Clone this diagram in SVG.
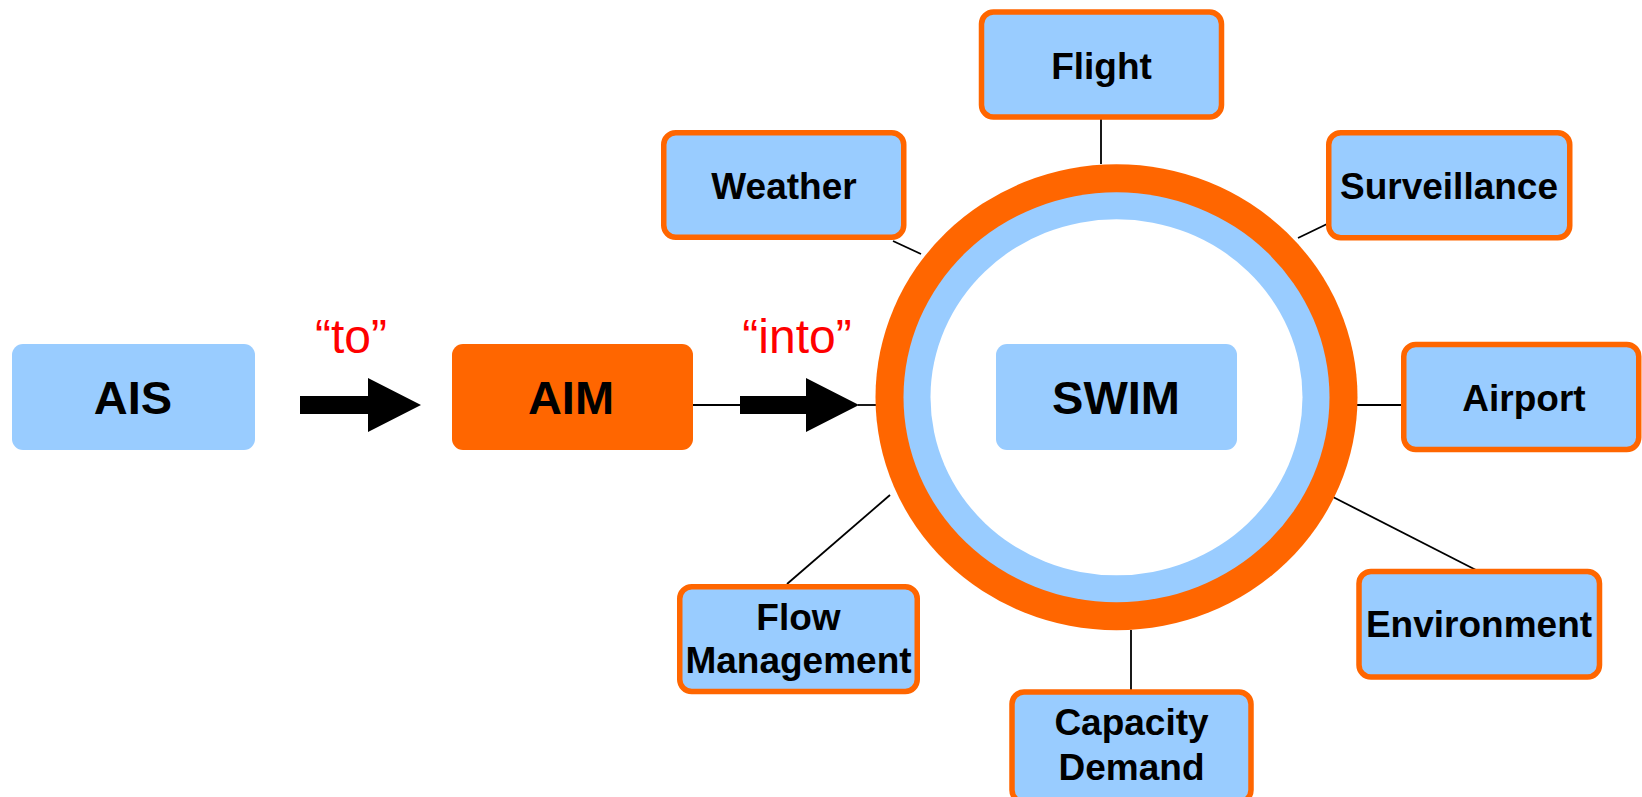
<svg xmlns="http://www.w3.org/2000/svg" width="1642" height="797" viewBox="0 0 1642 797">
<style>
.box{fill:#99CCFF;stroke:#FF6600;stroke-width:5.5}
.lbl{font-family:"Liberation Sans",Arial,sans-serif;font-weight:bold;font-size:37px;fill:#000;text-anchor:middle}
.big{font-family:"Liberation Sans",Arial,sans-serif;font-weight:bold;font-size:47px;fill:#000;text-anchor:middle}
.red{font-family:"Liberation Sans",Arial,sans-serif;font-size:48px;fill:#FF0000;text-anchor:middle}
.con{stroke:#000;stroke-width:1.8;fill:none}
</style>
<rect width="1642" height="797" fill="#fff"/>
<g id="connectors">
<line class="con" x1="693" y1="405" x2="740" y2="405"/>
<line class="con" x1="858" y1="405" x2="876" y2="405"/>
<line class="con" x1="1101" y1="118" x2="1101" y2="164"/>
<line class="con" x1="893" y1="241" x2="921" y2="254"/>
<line class="con" x1="1298" y1="238" x2="1327" y2="224"/>
<line class="con" x1="1357" y1="405" x2="1402" y2="405"/>
<line class="con" x1="1333" y1="497" x2="1476" y2="570"/>
<line class="con" x1="1131" y1="630" x2="1131" y2="690"/>
<line class="con" x1="890" y1="495" x2="787" y2="584"/>
<path d="M300 396 H368 V378 L421 405 L368 432 V414 H300 Z" fill="#000"/>
<path d="M740 396 H806 V378 L859 405 L806 432 V414 H740 Z" fill="#000"/>
</g>
<g id="swim-ring">
<ellipse cx="1116.5" cy="397.3" rx="241" ry="233" fill="#FF6600"/>
<ellipse cx="1116.5" cy="397.3" rx="213" ry="205" fill="#99CCFF"/>
<ellipse cx="1116.5" cy="397.3" rx="186" ry="178" fill="#fff"/>
</g>
<g id="to-label"><text class="red" x="351" y="353">“to”</text></g>
<g id="into-label"><text class="red" x="797" y="353">“into”</text></g>
<g id="ais">
<rect x="12" y="344" width="243" height="106" rx="11" fill="#99CCFF"/>
<text class="big" x="133" y="414">AIS</text>
</g>
<g id="aim">
<rect x="452" y="344" width="241" height="106" rx="11" fill="#FF6600"/>
<text class="big" x="571" y="414">AIM</text>
</g>
<g id="swim">
<rect x="996" y="344" width="241" height="106" rx="11" fill="#99CCFF"/>
<text class="big" x="1116" y="414">SWIM</text>
</g>
<g id="flight">
<rect class="box" x="981.5" y="12" width="240" height="105" rx="12"/>
<text class="lbl" x="1101.5" y="79">Flight</text>
</g>
<g id="weather">
<rect class="box" x="663.75" y="132.75" width="240" height="104.5" rx="12"/>
<text class="lbl" x="784" y="199">Weather</text>
</g>
<g id="surveillance">
<rect class="box" x="1328.75" y="132.75" width="241" height="105" rx="12"/>
<text class="lbl" x="1449" y="199">Surveillance</text>
</g>
<g id="airport">
<rect class="box" x="1403.75" y="344.5" width="235" height="105" rx="12"/>
<text class="lbl" x="1524" y="411">Airport</text>
</g>
<g id="environment">
<rect class="box" x="1359" y="571.5" width="240.5" height="105.5" rx="12"/>
<text class="lbl" x="1479" y="637">Environment</text>
</g>
<g id="capacity-demand">
<rect class="box" x="1012" y="692" width="239" height="110" rx="12"/>
<text class="lbl" x="1131.5" y="735">Capacity</text>
<text class="lbl" x="1131.5" y="780">Demand</text>
</g>
<g id="flow-management">
<rect class="box" x="679.75" y="586.75" width="237.5" height="104.8" rx="12"/>
<text class="lbl" x="798.5" y="630">Flow</text>
<text class="lbl" x="798.5" y="673">Management</text>
</g>
</svg>
